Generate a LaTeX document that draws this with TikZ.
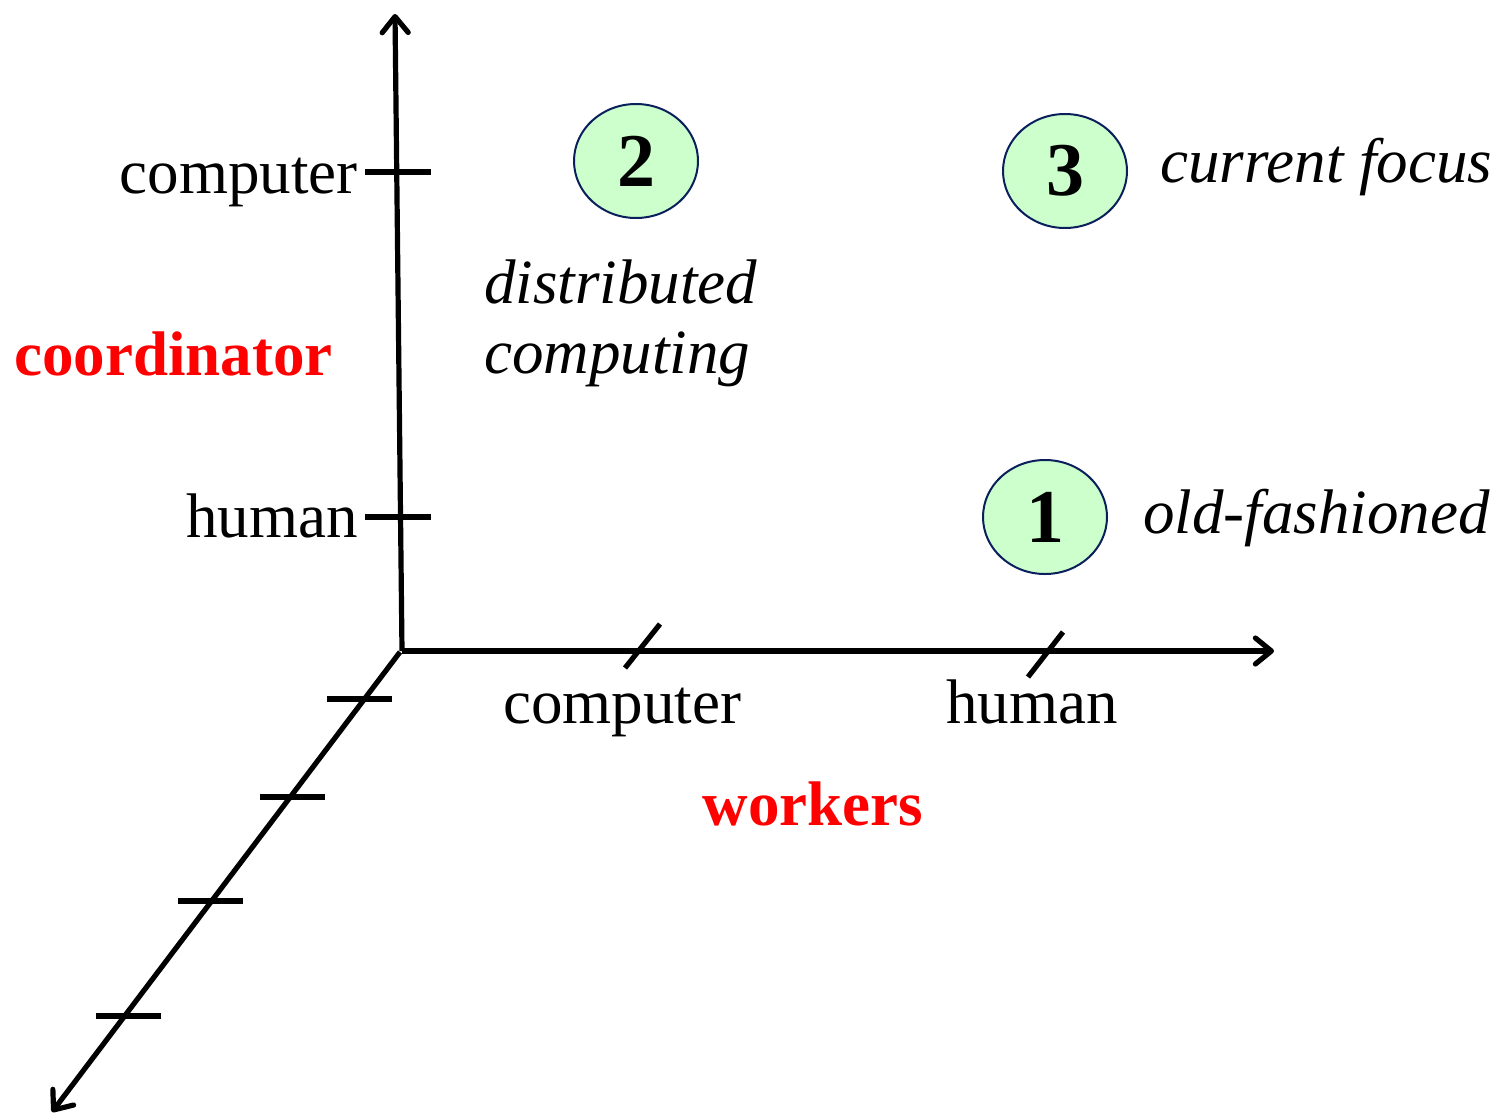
\documentclass[tikz,border=0pt]{standalone}
\usepackage{fontspec}
\setmainfont{Liberation Serif}
\usetikzlibrary{arrows.meta,shapes.geometric}
\definecolor{bubble}{HTML}{CCFFCC}
\definecolor{bubbleline}{HTML}{0A1F5C}
\definecolor{lblred}{HTML}{FF0000}
\begin{document}
\begin{tikzpicture}[x=0.5pt,y=-0.5pt,
  axis/.style={line width=2.6pt,-{Straight Barb[round,length=8pt,width=13pt,line width=2.6pt]}},
  tick/.style={line width=2.6pt},
  lbl/.style={inner sep=0pt,font=\fontsize{31.5}{37.8}\selectfont},
  ilbl/.style={inner sep=0pt,font=\fontsize{31.5}{37.8}\selectfont\itshape},
  rlbl/.style={inner sep=0pt,text=lblred,font=\fontsize{31.5}{37.8}\selectfont\bfseries},
  bub/.style={ellipse,draw=bubbleline,line width=1pt,fill=bubble,minimum width=62pt,minimum height=57pt,inner sep=0pt,font=\fontsize{38}{45}\selectfont\bfseries}
]
\useasboundingbox (0,0) rectangle (1509,1119);
% axes
\coordinate (O) at (402,651);
\coordinate (Od) at (400,652);
\coordinate (ytip) at (395,14);
\coordinate (xtip) at (1274,651);
\coordinate (ztip) at (52,1112);
\draw[axis] (O) -- (ytip);
\draw[axis] (O) -- (xtip);
\draw[axis] (Od) -- (ztip);
% y ticks
\coordinate (yt1a) at (365,172); \coordinate (yt1b) at (431,172);
\coordinate (yt2a) at (365,517); \coordinate (yt2b) at (431,517);
\draw[tick] (yt1a) -- (yt1b);
\draw[tick] (yt2a) -- (yt2b);
% x ticks
\coordinate (xt1a) at (625,668); \coordinate (xt1b) at (660,624);
\coordinate (xt2a) at (1028,677); \coordinate (xt2b) at (1063,632);
\draw[tick] (xt1a) -- (xt1b);
\draw[tick] (xt2a) -- (xt2b);
% z ticks
\coordinate (zt1a) at (327,699); \coordinate (zt1b) at (392,699);
\coordinate (zt2a) at (260,797); \coordinate (zt2b) at (325,797);
\coordinate (zt3a) at (178,901); \coordinate (zt3b) at (243,901);
\coordinate (zt4a) at (96,1016); \coordinate (zt4b) at (161,1016);
\draw[tick] (zt1a) -- (zt1b);
\draw[tick] (zt2a) -- (zt2b);
\draw[tick] (zt3a) -- (zt3b);
\draw[tick] (zt4a) -- (zt4b);
% labels
\node[lbl,anchor=base east] (ycomp) at (358,193) {computer};
\node[lbl,anchor=base east] (yhum) at (358,537) {human};
\node[rlbl,anchor=base west] (coord) at (14,375) {coordinator};
\node[lbl,anchor=base] (xcomp) at (622,723) {computer};
\node[lbl,anchor=base] (xhum) at (1032,723) {human};
\node[rlbl,anchor=base] (work) at (813,825) {workers};
\node[ilbl,anchor=base west] (dist) at (484,303) {distributed};
\node[ilbl,anchor=base west] (compg) at (484,373) {computing};
\node[ilbl,anchor=base west] (cur) at (1160,182) {current focus};
\node[ilbl,anchor=base west] (oldf) at (1143,533) {old-fashioned};
% bubbles
\node[bub] (b2) at (636,161) {2};
\node[bub] (b3) at (1065,171) {3};
\node[bub] (b1) at (1045,517) {1};
\end{tikzpicture}
\end{document}
